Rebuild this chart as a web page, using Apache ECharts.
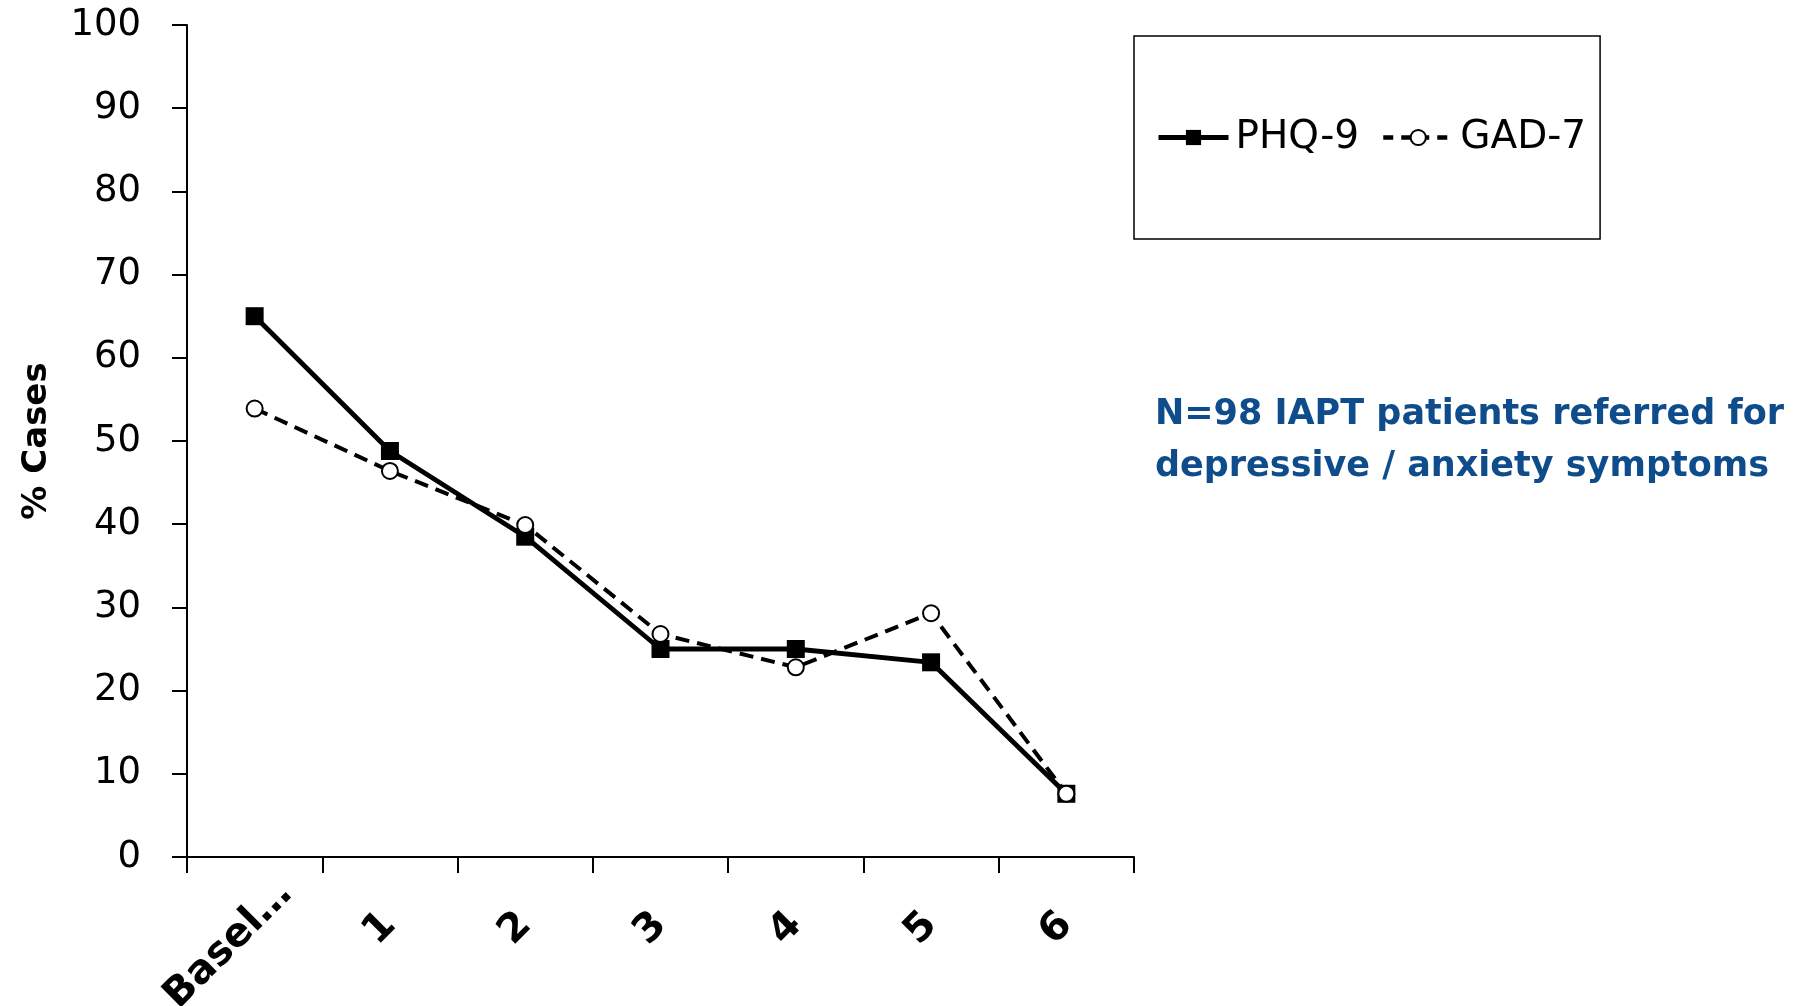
<!DOCTYPE html>
<html>
<head>
<meta charset="utf-8">
<script src="https://cdn.jsdelivr.net/npm/echarts@6/dist/echarts.min.js"></script>
<style>
html,body{margin:0;padding:0;background:#fff;}
#chart{width:1801px;height:1006px;}
</style>
</head>
<body>
<div id="chart"></div>
<script>
const categories = ["Basel\u2026", "1", "2", "3", "4", "5", "6"];
const phq9 = [65.0, 48.8, 38.5, 25.0, 25.0, 23.4, 7.6];
const gad7 = [53.9, 46.4, 39.9, 26.8, 22.8, 29.3, 7.6];
const yTicks = { min: 0, max: 100, interval: 10 };
const noteLines = ["N=98 IAPT patients referred for", "depressive / anxiety symptoms"];

const FONT = "DejaVu Sans";
const XFONT = 40;
const chart = echarts.init(document.getElementById('chart'));
chart.setOption({
  animation: false,
  backgroundColor: '#ffffff',
  grid: { left: 187, right: 667, top: 25, bottom: 149, containLabel: false, outerBoundsMode: 'none' },
  legend: {
    left: 1134, top: 36,
    orient: 'horizontal',
    borderColor: '#000', borderWidth: 1.5,
    padding: [82, 14, 82, 22],
    itemWidth: 70, itemHeight: 19, itemGap: 22,
    textStyle: { fontFamily: FONT, fontSize: 39, color: '#000', padding: [4, 0, 0, 2] },
    data: [
      { name: 'PHQ-9', lineStyle: { width: 5, color: '#000', type: 'solid' } },
      { name: 'GAD-7', lineStyle: { width: 4.5, color: '#000', type: [10, 8] } }
    ]
  },
  xAxis: {
    type: 'category',
    data: categories,
    boundaryGap: true,
    axisLine: { lineStyle: { color: '#000', width: 2 } },
    axisTick: { show: true, length: 16, lineStyle: { color: '#000', width: 2 } },
    axisLabel: {
      rotate: 45, margin: 62, interval: 0,
      fontFamily: FONT, fontWeight: 'bold', fontSize: XFONT, color: '#000',
      formatter: function (v, i) { return i === 0 ? '{b|' + v + '}' : v; },
      rich: {
        b: { width: 118, align: 'left', overflow: 'none', fontFamily: FONT, fontWeight: 'bold', fontSize: XFONT, color: '#000' }
      }
    }
  },
  yAxis: {
    type: 'value',
    min: yTicks.min, max: yTicks.max, interval: yTicks.interval,
    name: '% Cases',
    nameLocation: 'middle',
    nameRotate: 90,
    nameGap: 133,
    nameTextStyle: { fontFamily: FONT, fontWeight: 'bold', fontSize: 34, color: '#000' },
    splitLine: { show: false },
    axisLine: { show: true, lineStyle: { color: '#000', width: 2 } },
    axisTick: { show: true, length: 15, lineStyle: { color: '#000', width: 2 } },
    axisLabel: { margin: 46, fontFamily: FONT, fontSize: 37, color: '#000' }
  },
  series: [
    {
      name: 'PHQ-9', type: 'line', data: phq9,
      symbol: 'rect', symbolSize: 18,
      itemStyle: { color: '#000', borderColor: '#000', borderWidth: 0 },
      lineStyle: { color: '#000', width: 4.8, type: 'solid' },
      z: 2
    },
    {
      name: 'GAD-7', type: 'line', data: gad7,
      symbol: 'circle', symbolSize: 16,
      itemStyle: { color: '#fff', borderColor: '#000', borderWidth: 2 },
      lineStyle: { color: '#000', width: 4, type: [14, 8] },
      z: 3
    }
  ],
  graphic: [
    {
      type: 'text', left: 1155, top: 389,
      style: {
        text: noteLines.join('\n'),
        fontFamily: FONT, fontWeight: 'bold', fontSize: 35, lineHeight: 52,
        fill: '#0F4C8C'
      }
    }
  ]
});
</script>
</body>
</html>
